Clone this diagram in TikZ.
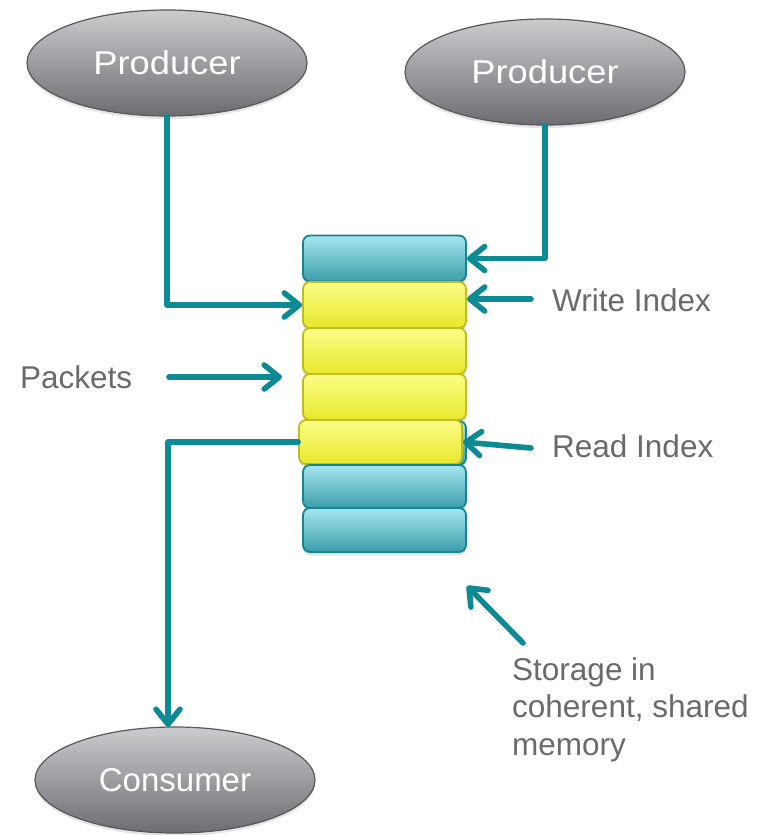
\documentclass[tikz,border=0pt]{standalone}
\usepackage{fontspec}
\setmainfont{Liberation Sans}
\usetikzlibrary{shapes.geometric,arrows.meta,shadows}

\definecolor{linkteal}{RGB}{14,138,148}
\definecolor{cellcyanT}{RGB}{166,230,240}
\definecolor{cellcyanB}{RGB}{58,158,170}
\definecolor{cellcyanE}{RGB}{20,134,143}
\definecolor{cellyelT}{RGB}{252,252,135}
\definecolor{cellyelB}{RGB}{232,232,44}
\definecolor{cellyelE}{RGB}{190,190,30}
\definecolor{agentT}{RGB}{204,204,207}
\definecolor{agentB}{RGB}{108,108,114}
\definecolor{agentE}{RGB}{88,88,92}
\definecolor{labelgrey}{RGB}{105,105,110}

\begin{document}
\begin{tikzpicture}[x=1pt,y=-1pt,
  agent/.style={ellipse, draw=agentE, line width=1.2pt,
    top color=agentT, bottom color=agentB,
    minimum width=280pt, minimum height=106pt, inner sep=0pt,
    text=white, font=\fontsize{33}{40}\selectfont,
    drop shadow={opacity=0.2,shadow xshift=0pt,shadow yshift=-3pt}},
  cell/.style={rectangle, rounded corners=7pt, line width=1.8pt,
    minimum width=163pt, minimum height=46pt, inner sep=0pt,
    drop shadow={opacity=0.25,shadow xshift=0pt,shadow yshift=-3pt}},
  tealcell/.style={cell, draw=cellcyanE, top color=cellcyanT, bottom color=cellcyanB},
  yellowcell/.style={cell, draw=cellyelE, top color=cellyelT, bottom color=cellyelB},
  conn/.style={draw=linkteal, line width=5.6pt, line cap=round, line join=round,
    -{Straight Barb[length=15pt,width=24pt,line cap=round,line join=round]}},
  lbl/.style={text=labelgrey, font=\fontsize{31.5}{37.5}\selectfont, inner sep=0pt},
]
\useasboundingbox[fill=white] (0,0) rectangle (764,835);

% producers and consumer
\node[agent] (p1) at (167,63) {\scalebox{1.1}[1]{Producer}};
\node[agent] (p2) at (545,72) {\scalebox{1.1}[1]{Producer}};
\node[agent] (cons) at (175,780) {Consumer};

% ring buffer cells
\node[tealcell]   (b1) at (384.5,258.5) {};
\node[yellowcell] (b2) at (384.5,305) {};
\node[yellowcell] (b3) at (384.5,351) {};
\node[yellowcell] (b4) at (384.5,397) {};
\node[tealcell, minimum height=44pt] (b5back) at (384.5,443) {};
\node[yellowcell, minimum height=44pt] (b5) at (380.5,442) {};
\node[tealcell, minimum height=43pt] (b6) at (384.5,486.5) {};
\node[tealcell, minimum height=44pt] (b7) at (384.5,530) {};

% labels
\node[lbl, anchor=base west] (wi) at (552,311) {Write Index};
\node[lbl, anchor=base west] (pk) at (20,388) {Packets};
\node[lbl, anchor=base west] (ri) at (552,457) {Read Index};
\node[lbl, anchor=north west, align=left] (st) at (512,657)
  {Storage in\\coherent, shared\\memory};

% free ends of the short pointers
\coordinate (wtail) at (531,299);
\coordinate (rtail) at (531,448);
\coordinate (ptail) at (169,377);
\coordinate (ptip)  at (282,377);
\coordinate (cin)   at (168,727);
\coordinate (stail) at (523,643);
\coordinate (stip)  at (467,586);

% connectors
\draw[conn] (p1.south) |- (b2.west);
\draw[conn] (p2.south) |- (b1.east);
\draw[conn] (wtail) -- (wtail -| b2.east);
\draw[conn] (rtail) -- (b5.east);
\draw[conn] (ptail) -- (ptip);
\draw[conn] (b5.west) -| (cin);
\draw[conn] (stail) -- (stip);
\end{tikzpicture}
\end{document}
